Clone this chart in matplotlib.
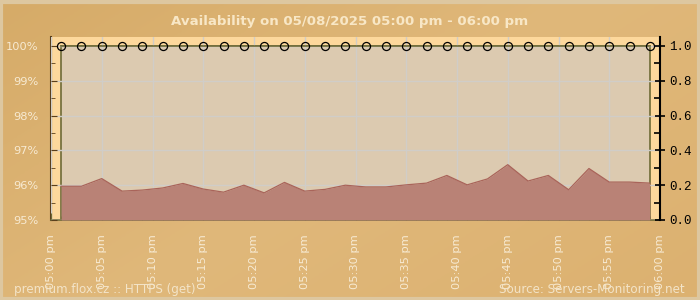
import numpy as np
import matplotlib
matplotlib.use("Agg")
import matplotlib.pyplot as plt
from matplotlib.colors import LinearSegmentedColormap
from matplotlib.ticker import MultipleLocator, FixedLocator

# chart data
title = "Availability on 05/08/2025 05:00 pm - 06:00 pm"
tick_minutes = [0, 5, 10, 15, 20, 25, 30, 35, 40, 45, 50, 55, 60]
tick_labels = ["05:00 pm", "05:05 pm", "05:10 pm", "05:15 pm", "05:20 pm", "05:25 pm",
               "05:30 pm", "05:35 pm", "05:40 pm", "05:45 pm", "05:50 pm", "05:55 pm",
               "06:00 pm"]
# measurement times, minutes after 05:00 pm
sample_minutes = [1, 3, 5, 7, 9, 11, 13, 15, 17, 19, 21, 23, 25, 27, 29,
                  31, 33, 35, 37, 39, 41, 43, 45, 47, 49, 51, 53, 55, 57, 59]
availability = [100, 100, 100, 100, 100, 100, 100, 100, 100, 100,
                100, 100, 100, 100, 100, 100, 100, 100, 100, 100,
                100, 100, 100, 100, 100, 100, 100, 100, 100, 100]
response_time = [0.194, 0.194, 0.238, 0.166, 0.172, 0.184, 0.210, 0.178, 0.160, 0.200,
                 0.156, 0.216, 0.166, 0.176, 0.200, 0.190, 0.190, 0.202, 0.212, 0.256,
                 0.202, 0.236, 0.318, 0.224, 0.256, 0.174, 0.296, 0.218, 0.218, 0.212]
footer_left = "premium.flox.cz :: HTTPS (get)"
footer_right = "Source: Servers-Monitoring.net"

light_txt = "#f7ead2"
olive = "#6e6a36"

fig = plt.figure(figsize=(7, 3), dpi=100)

# background gradient
bg = fig.add_axes([0, 0, 1, 1], zorder=-10)
bg_cmap = LinearSegmentedColormap.from_list("bg", ["#d6ab68", "#e0b87a", "#dcb170"])
gx, gy = np.meshgrid(np.linspace(0, 1, 200), np.linspace(0, 1, 100))
bg.imshow(0.6 * gx + 0.4 * gy, cmap=bg_cmap, aspect="auto", extent=[0, 1, 0, 1])
bg.add_patch(plt.Rectangle((0.002, 0.004), 0.996, 0.99, fill=False,
                           edgecolor="#ddc7a0", lw=3))
bg.set_xlim(0, 1)
bg.set_ylim(0, 1)
bg.axis("off")

ax = fig.add_axes([51 / 700, 80 / 300, 609 / 700, 183 / 300])
ax.set_facecolor("#fdd89c")
ax.set_xlim(0, 60)
ax.set_ylim(95, 100 + 9 / 35)

# inner plot area
ax.add_patch(plt.Rectangle((sample_minutes[0], 95), sample_minutes[-1] - sample_minutes[0], 5,
                           facecolor="#dccab0", edgecolor=olive, lw=1.2, zorder=0.5))

ax.grid(True, color="#d0cdc8", lw=1, zorder=1)
ax.set_axisbelow(False)

ax.set_xticks(tick_minutes)
ax.set_xticklabels(tick_labels, rotation=90, color=light_txt, fontsize=8.2)
ax.xaxis.set_minor_locator(MultipleLocator(1))
ax.tick_params(axis="x", which="major", direction="in", length=5, color=olive, pad=10)
ax.tick_params(axis="x", which="minor", direction="in", length=3, color=olive)

ax.set_yticks([95, 96, 97, 98, 99, 100])
ax.set_yticklabels(["95%", "96%", "97%", "98%", "99%", "100%"], color=light_txt, fontsize=8.2)
ax.yaxis.set_minor_locator(FixedLocator([95.5, 96.5, 97.5, 98.5, 99.5]))
ax.tick_params(axis="y", which="major", direction="in", length=4, color="#5a3f1c", pad=9)
ax.tick_params(axis="y", which="minor", direction="in", length=3, color="#5a3f1c")

for s in ["top", "right"]:
    ax.spines[s].set_visible(False)
ax.spines["left"].set_color("#5a3f1c")
ax.spines["left"].set_linewidth(1.5)
ax.spines["bottom"].set_color(olive)
ax.spines["bottom"].set_linewidth(1.2)

# response time on right axis
ax2 = ax.twinx()
ax2.set_ylim(0, 1 + 9 / 174)
ax2.fill_between(sample_minutes, 0, response_time, color="#b98276", lw=0, zorder=2)
ax2.plot(sample_minutes, response_time, color="#a9645a", lw=0.9, zorder=3)
ax2.set_yticks([0, 0.2, 0.4, 0.6, 0.8, 1.0])
ax2.set_yticklabels(["0.0", "0.2", "0.4", "0.6", "0.8", "1.0"],
                    family="Liberation Mono", fontsize=9, color="black")
ax2.yaxis.set_minor_locator(FixedLocator([0.1, 0.3, 0.5, 0.7, 0.9]))
ax2.tick_params(axis="y", which="major", direction="inout", length=7, width=1.2, color="black", pad=3)
ax2.tick_params(axis="y", which="minor", direction="in", length=4, width=1.2, color="black")
for s in ["top", "left", "bottom"]:
    ax2.spines[s].set_visible(False)
ax2.spines["right"].set_color("black")
ax2.spines["right"].set_linewidth(1.5)

# availability line with markers on top
ax3 = ax.twinx()
ax3.set_ylim(ax.get_ylim())
ax3.axis("off")
ax3.plot(sample_minutes, availability, color=olive, lw=1.2, marker="o", markersize=5.8,
         markerfacecolor="none", markeredgecolor="black", markeredgewidth=0.9, zorder=5,
         clip_on=False)

fig.text(0.5, 1 - 22 / 300, title, ha="center", va="center", fontsize=9.6,
         fontweight="bold", color="#f8e7c6")
fig.text(14 / 700, 1 - 289 / 300, footer_left, ha="left", va="center",
         fontsize=8.6, color="#f3e4c8")
fig.text(685 / 700, 1 - 289 / 300, footer_right, ha="right", va="center",
         fontsize=8.6, color="#f3e4c8")

fig.savefig("out.png", dpi=100)
